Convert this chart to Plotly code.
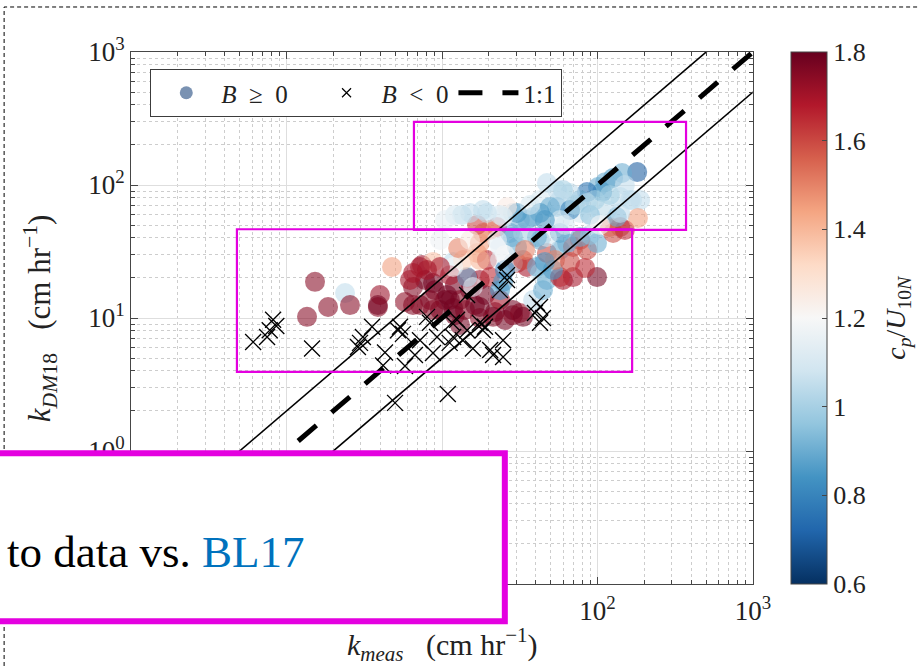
import plotly.graph_objects as go

# ---- Transfer velocity data: B >= 0 (coloured by wave age) ----
kmeas_pos = [
    1.525, 1.355, 1.85, 2.38, 2.56, 3.87, 3.99, 4.77, 5.78, 6.51, 7.43, 8.75, 11.8, 9.71, 3.87,
    7.78, 9.01, 10.45, 12.1, 13.05, 15.15, 9.71, 12.1, 14.05, 16.3, 8.37, 11.25, 17.5, 18.9, 7.22,
    13.05, 17.5, 21.9, 25.4, 28.6, 31.7, 23.6, 10.8, 14.7, 8.75, 11.8, 17.5, 21.3, 6.51,
    7.22, 6.22, 8.75, 11.25, 14.5, 16.8, 19.45, 20.35, 23.6, 30.4, 35.2, 42.7, 47.3, 60.0, 69.6,
    99.3, 57.4, 28.6, 33.2, 38.5, 44.6, 23.6, 17.5, 13.65, 11.8, 9.71, 8.01, 6.51, 28.6, 33.2,
    40.8, 47.3, 57.4, 69.6, 85.6, 51.7, 99.3, 77.2, 126, 140, 120, 42.7, 57.4, 30.4, 23.6, 17.5,
    18.35, 22.6, 27.4, 20.35, 16.8, 28.6, 22.6, 47.3, 40.8, 33.2, 63.7, 77.2, 12.7, 15.15, 24.7,
    15.8, 25.4, 34.2, 25.4, 53.3, 66.6, 45.9, 83.2, 150, 89.5,
    180, 126, 144, 112, 100.7, 140, 167, 188, 107, 85.6, 77.2, 66.6, 54.9, 60.0, 47.3, 42.7, 54.9,
    77.2, 93.5, 115, 133, 182, 103.8, 85.6, 57.4, 49.5, 42.7, 35.2, 31.7, 38.5, 28.6, 30.4, 26.2,
    24.7, 18.35, 19.45, 15.15, 13.45, 140, 162, 66.6, 57.4,
    71.7, 89.5, 61.8, 45.9, 120, 150, 96.4, 36.8, 23.6, 12.1, 10.45, 103.8,
]
kdm18_pos = [
    18.7, 10.2, 12.1, 15.4, 12.5, 12.1, 14.9, 24.2, 13.2, 17.1, 25.0, 26.4, 26.4, 38.6, 12.5,
    19.3, 16.2, 13.65, 17.7, 13.65, 16.2, 11.5, 10.5, 11.5, 12.5, 13.65, 21.0, 19.3, 14.9, 12.5,
    8.86, 10.0, 11.1, 9.66, 10.5, 10.9, 13.65, 14.9, 20.0, 11.5, 11.9, 12.1, 10.2, 12.5,
    24.2, 19.3, 18.3, 13.65, 20.3, 30.8, 27.3, 20.3, 27.3, 25.9, 24.2, 21.8, 19.3, 19.3, 20.3,
    20.3, 20.3, 11.5, 10.2, 13.65, 16.2, 16.2, 27.3, 27.3, 24.2, 24.2, 23.0, 21.8, 25.9, 27.3,
    24.2, 30.8, 32.5, 34.2, 32.5, 23.0, 36.6, 38.6, 43.6, 48.3, 48.3, 38.6, 43.6, 34.2, 34.2, 36.6,
    43.6, 48.3, 43.6, 45.9, 50.1, 40.6, 38.6, 40.6, 40.6, 43.6, 36.6, 40.6, 33.6, 38.6, 18.7,
    17.1, 23.0, 32.5, 29.8, 27.3, 26.4, 26.4, 23.8, 45.9, 42.1,
    125, 113, 123, 105, 96.6, 81.3, 77.1, 77.1, 88.5, 88.5, 77.1, 87.1, 91.7, 91.7, 103.5, 77.1, 68.3,
    61.6, 54.6, 64.9, 57.5, 56.5, 64.9, 73.2, 77.1, 68.3, 61.6, 54.6, 54.6, 57.5, 61.6, 61.6, 68.3,
    57.5, 64.9, 61.6, 61.6, 59.5, 61.6, 77.1, 64.9, 54.6,
    70.8, 59.5, 50.1, 54.6, 84.1, 100, 77.1, 70.8, 59.5, 59.5, 54.6, 50.1,
]
cp_u10n_pos = [
    1.75, 1.75, 1.75, 1.05, 1.75, 1.75, 1.72, 1.45, 1.74, 1.76, 1.72, 1.38, 1.05, 1.17, 1.78,
    1.78, 1.78, 1.78, 1.78, 1.75, 1.78, 1.78, 1.78, 1.75, 1.78, 1.75, 1.70, 1.72, 1.78, 1.76,
    1.78, 1.75, 1.78, 1.78, 1.75, 1.72, 1.70, 1.78, 1.70, 1.75, 1.78, 1.78, 1.76, 1.75,
    1.70, 1.70, 1.78, 1.78, 0.90, 1.45, 1.65, 1.65, 1.15, 1.60, 1.70, 1.10, 0.90, 1.70, 1.70,
    1.78, 1.65, 1.78, 1.78, 1.05, 0.90, 0.85, 1.40, 1.35, 1.20, 1.70, 1.70, 1.70, 1.05, 1.60,
    0.90, 1.60, 0.90, 1.60, 1.60, 0.85, 0.90, 1.60, 1.60, 1.60, 1.55, 0.90, 0.85, 0.90, 1.15, 1.45,
    1.50, 1.65, 0.90, 1.45, 1.60, 0.90, 1.15, 1.10, 0.90, 1.00, 0.90, 0.90, 1.50, 1.25, 0.85,
    1.15, 0.80, 1.50, 1.20, 1.50, 1.60, 0.85, 1.65, 1.65, 0.95,
    0.70, 0.85, 0.90, 0.90, 0.90, 1.05, 1.05, 1.05, 0.85, 0.75, 0.90, 1.05, 1.05, 1.00, 1.05, 1.10, 0.90,
    1.10, 1.20, 1.05, 0.90, 1.45, 1.10, 1.05, 1.05, 0.90, 0.85, 0.90, 0.90, 0.90, 1.05, 0.85, 1.25,
    1.15, 1.05, 1.05, 1.05, 1.05, 1.05, 1.05, 0.80, 1.10,
    1.00, 0.95, 1.10, 0.85, 1.00, 1.05, 1.00, 1.10, 1.10, 1.10, 1.15, 1.20,
]

# ---- Transfer velocity data: B < 0 ----
kmeas_neg = [
    0.61, 0.75, 0.78, 0.82, 0.86, 1.46, 2.88, 3.10, 3.55, 2.97, 4.30, 4.18, 5.21, 5.61, 5.37, 5.78,
    8.01, 8.37, 9.29, 8.75, 11.2, 11.6, 12.5, 11.8, 14.5, 15.8, 14.5, 17.5, 18.3, 13.6, 20.4, 18.9,
    21.3, 24.7, 24.7, 26.2, 23.6, 26.2, 39.6, 42.7, 42.7, 44.6, 40.8, 10.9, 4.99, 7.22, 6.70,
]
kdm18_neg = [
    6.6, 7.2, 8.1, 9.7, 8.7, 5.9, 6.05, 7.2, 8.6, 6.5, 5.5, 4.4, 8.1, 7.6, 8.6, 4.35,
    10.2, 9.2, 7.2, 5.45, 6.5, 9.2, 9.7, 7.2, 8.1, 5.9, 14.9, 9.2, 8.1, 6.8, 5.75, 8.6,
    5.27, 6.8, 5.09, 19.3, 16.2, 21.0, 10.9, 12.1, 9.2, 10.0, 13.0, 2.68, 2.30, 6.8, 5.27,
]

# ---- Reference lines: 1:1 and factor-of-two bounds ----
line_kmeas = [0.1, 1000]
ratio_one = 1.0
ratio_bounds = [2.0, 0.5]

# ---- Axis ticks ----
decades = [0.1, 1, 10, 100, 1000]
decade_labels = ["10<sup>−1</sup>", "10<sup>0</sup>", "10<sup>1</sup>", "10<sup>2</sup>", "10<sup>3</sup>"]
minor_vals = [m * d for d in [0.1, 1, 10, 100] for m in range(2, 10)]
cbar_vals = [0.6, 0.8, 1.0, 1.2, 1.4, 1.6, 1.8]
cbar_labels = ["0.6", "0.8", "1", "1.2", "1.4", "1.6", "1.8"]

# ---- Highlight boxes (data units) ----
box_low = dict(x0=0.48, x1=167, y0=3.93, y1=46.5)
box_high = dict(x0=6.6, x1=371, y0=46.0, y1=298)

SERIF = "Liberation Serif"
MAGENTA = "#E400E0"
GRID = "rgb(222,222,222)"
AXIS = "rgb(70,70,70)"
NB = "\u00a0"

rdbu_r = [
    [0.0, "rgb(5,48,97)"], [0.1, "rgb(33,102,172)"], [0.2, "rgb(67,147,195)"],
    [0.3, "rgb(146,197,222)"], [0.4, "rgb(209,229,240)"], [0.5, "rgb(247,247,247)"],
    [0.6, "rgb(253,219,199)"], [0.7, "rgb(244,165,130)"], [0.8, "rgb(214,96,77)"],
    [0.9, "rgb(178,24,43)"], [1.0, "rgb(103,0,31)"],
]

fig = go.Figure()

fig.add_trace(go.Scatter(
    x=kmeas_pos, y=kdm18_pos, mode="markers", showlegend=False,
    marker=dict(size=20, color=cp_u10n_pos, colorscale=rdbu_r, cmin=0.6, cmax=1.8,
                opacity=0.58, line=dict(width=0),
                colorbar=dict(x=1.0611, xanchor="left", xpad=0, y=0.5, yanchor="middle",
                              len=1, lenmode="fraction", ypad=0, thickness=36,
                              outlinecolor=AXIS, outlinewidth=1,
                              ticks="inside", ticklen=5, tickcolor=AXIS,
                              tickvals=cbar_vals, ticktext=cbar_labels,
                              tickfont=dict(family=SERIF, size=26, color="#222"))),
))

fig.add_trace(go.Scatter(
    x=kmeas_neg, y=kdm18_neg, mode="markers", showlegend=False,
    marker=dict(symbol="x-thin", size=16, color="black", line=dict(width=1.3, color="black")),
))

for r in ratio_bounds:
    fig.add_trace(go.Scatter(
        x=line_kmeas, y=[v * r for v in line_kmeas], mode="lines", showlegend=False,
        line=dict(color="black", width=1.6),
    ))

fig.add_trace(go.Scatter(
    x=line_kmeas, y=[v * ratio_one for v in line_kmeas], mode="lines", name="1:1",
    line=dict(color="black", width=5, dash="24px,20px"), legendrank=3,
))

# legend entries for the two marker groups
fig.add_trace(go.Scatter(
    x=[None], y=[None], mode="markers", legendrank=1,
    name=f"<i>B</i>{NB} ≥{NB} 0{NB}{NB}{NB}",
    marker=dict(size=13, color="rgb(122,146,178)"),
))
fig.add_trace(go.Scatter(
    x=[None], y=[None], mode="markers", legendrank=2,
    name=f"<i>B</i>{NB} <{NB} 0",
    marker=dict(symbol="x-thin", size=9, line=dict(width=1.2, color="black")),
))

axis_common = dict(
    type="log", showline=True, linecolor=AXIS, linewidth=1, mirror="allticks",
    ticks="inside", ticklen=7, tickcolor=AXIS,
    tickmode="array", tickvals=decades, ticktext=decade_labels,
    showgrid=True, gridcolor=GRID, gridwidth=1, zeroline=False,
    tickfont=dict(family=SERIF, size=27, color="#222"),
    minor=dict(tickmode="array", tickvals=minor_vals, ticks="inside", ticklen=4,
               tickcolor=AXIS, showgrid=True, gridcolor="rgb(205,205,205)", griddash="dot"),
)

fig.update_xaxes(range=[-1, 3], ticklabelstandoff=3, **axis_common)
fig.update_yaxes(range=[-1, 3], **axis_common)

shapes = [
    # dashed outer frame
    dict(type="rect", xref="paper", yref="paper", x0=-0.204, x1=1.6, y0=-0.4, y1=1.0846,
         line=dict(color="black", width=1, dash="4px,3px"), layer="above"),
    dict(type="rect", xref="x", yref="y", layer="above", line=dict(color=MAGENTA, width=2.2),
         **box_low),
    dict(type="rect", xref="x", yref="y", layer="above", line=dict(color=MAGENTA, width=2.2),
         **box_high),
    # callout panel
    dict(type="rect", xref="paper", yref="paper", x0=-0.35, x1=0.601, y0=-0.07, y1=0.246,
         fillcolor="white", line=dict(color=MAGENTA, width=6), layer="above"),
]

annotations = [
    dict(xref="paper", yref="paper", x=-0.2026, y=0.0602, xanchor="left", yanchor="middle",
         showarrow=False, align="left",
         text='to data vs. <span style="color:#0072BD">BL17</span>',
         font=dict(family=SERIF, size=45, color="black")),
    dict(xref="paper", yref="paper", x=0.5, y=-0.113, xanchor="center", yanchor="middle",
         showarrow=False,
         text=f"<i>k</i><sub><i>meas</i></sub>{NB}{NB}{NB}(cm{NB}hr<sup>−1</sup>)",
         font=dict(family=SERIF, size=30, color="#222")),
    dict(xref="paper", yref="paper", x=-0.146, y=0.5, xanchor="center", yanchor="middle",
         showarrow=False, textangle=-90,
         text=f"<i>k</i><sub><i>DM</i>18</sub>{NB}{NB}{NB}(cm{NB}hr<sup>−1</sup>)",
         font=dict(family=SERIF, size=31, color="#222")),
    dict(xref="paper", yref="paper", x=1.231, y=0.5, xanchor="center", yanchor="middle",
         showarrow=False, textangle=-90,
         text="<i>c</i><sub><i>p</i></sub>/<i>U</i><sub>10<i>N</i></sub>",
         font=dict(family=SERIF, size=28, color="#222")),
]

fig.update_layout(
    width=918, height=666,
    margin=dict(l=131, r=165, t=52, b=82),
    paper_bgcolor="white", plot_bgcolor="white",
    shapes=shapes, annotations=annotations,
    legend=dict(orientation="h", x=0.031, y=0.968, xanchor="left", yanchor="top",
                bgcolor="white", bordercolor="rgb(60,60,60)", borderwidth=1,
                font=dict(family=SERIF, size=25, color="#222"),
                itemwidth=60, tracegroupgap=0),
)

fig.write_html("out.html")
